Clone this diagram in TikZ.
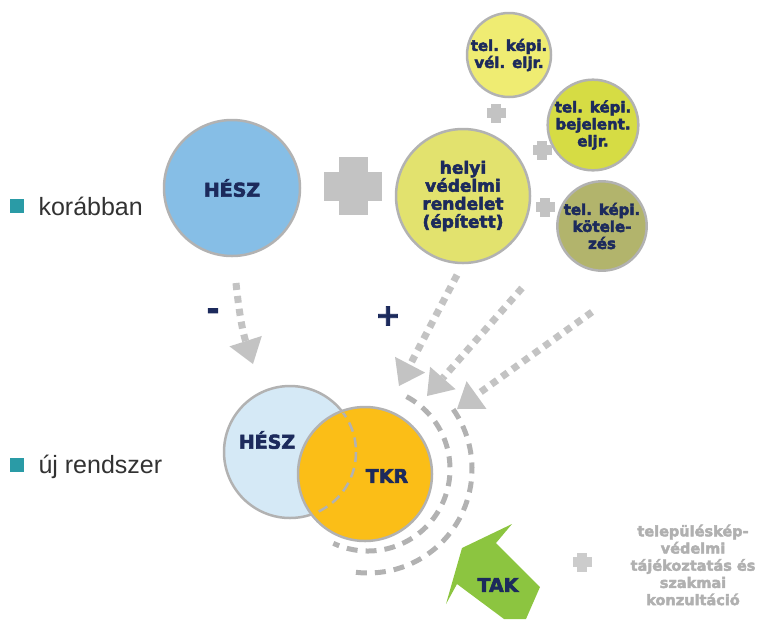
\documentclass[tikz,border=0pt]{standalone}
\usepackage{fontspec}
\setmainfont{Liberation Sans}
\newfontfamily\heavyFont{DejaVu Sans Bold}[FakeBold=3]
\usepackage{tikz}
\usetikzlibrary{positioning, arrows.meta}
\tikzstyle{sheet} = [x = 1pt, y = -1pt]
\definecolor{rimGray}{RGB}{178,178,178}
\definecolor{plusGray}{RGB}{195,195,195}
\definecolor{paleGray}{RGB}{204,204,204}
\definecolor{noteGray}{RGB}{176,176,176}
\definecolor{inkNavy}{RGB}{28,42,92}
\definecolor{keyTeal}{RGB}{42,155,166}
\definecolor{labelGray}{RGB}{50,50,50}
\definecolor{heszBlue}{RGB}{134,190,230}
\definecolor{heszPale}{RGB}{213,233,246}
\definecolor{tkrOrange}{RGB}{251,190,23}
\definecolor{takGreen}{RGB}{140,197,64}
\definecolor{helyiYellow}{RGB}{226,226,110}
\definecolor{eljrYellow}{RGB}{239,236,114}
\definecolor{bejelentYellow}{RGB}{214,220,68}
\definecolor{kotelezOlive}{RGB}{178,180,108}
\tikzstyle{bubbleStyle} = [circle, draw=rimGray, line width=2.5pt, inner sep=0pt, align=center, text=inkNavy]
\tikzstyle{bigText} = [font=\heavyFont\fontsize{19}{20}\selectfont]
\tikzstyle{midText} = [font=\heavyFont\fontsize{17}{18}\selectfont]
\tikzstyle{smallText} = [font=\heavyFont\fontsize{15}{17}\selectfont]
\tikzstyle{noteText} = [align=center, text=noteGray, font=\heavyFont\fontsize{14.5}{17.2}\selectfont]
\tikzstyle{keyBox} = [fill=keyTeal, minimum size=14pt, inner sep=0pt]
\tikzstyle{keyText} = [anchor=base west, text=labelGray, font=\fontsize{25}{28}\selectfont]
\tikzstyle{signText} = [text=inkNavy, font=\heavyFont\fontsize{30}{30}\selectfont]
\tikzstyle{flowArrow} = [draw=plusGray, line width=7pt, dash pattern=on 7pt off 6pt, -{Triangle[length=24pt, width=34pt, line width=0pt]}]
\tikzstyle{rippleStyle} = [draw=rimGray, line width=5pt, dash pattern=on 11pt off 8pt]
\newcommand{\plusSign}[4]{
  \fill [#4] (#1 - #3 / 2, #2 - #3 / 4) rectangle + (#3, #3 / 2);
  \fill [#4] (#1 - #3 / 4, #2 - #3 / 2) rectangle + (#3 / 2, #3);
}

\begin{document}
\begin{tikzpicture}[sheet]
  \useasboundingbox (0,0) rectangle (762,619);

  % legend
  \node [keyBox] (keyOld) at (17,206) {};
  \node [keyText] (labelOld) at (35,215) {korábban};
  \node [keyBox] (keyNew) at (17,465) {};
  \node [keyText] (labelNew) at (35,473) {új rendszer};

  % earlier system
  \node [bubbleStyle, bigText, fill=heszBlue, minimum size=136pt] (hesz) at (232,188) {HÉSZ};
  \plusSign{353}{186}{58}{plusGray}
  \node [bubbleStyle, midText, fill=helyiYellow, minimum size=134pt] (helyi) at (463,196) {helyi\\védelmi\\rendelet\\(épített)};
  \node [bubbleStyle, smallText, fill=eljrYellow, minimum size=84pt] (eljr) at (509,55) {tel. képi.\\vél. eljr.};
  \node [bubbleStyle, smallText, fill=bejelentYellow, minimum size=84pt] (bejelent) at (593,125) {tel. képi.\\bejelent.\\eljr.};
  \node [bubbleStyle, smallText, fill=kotelezOlive, minimum size=84pt] (kotelez) at (602,226) {tel. képi.\\kötele-\\zés};
  \plusSign{496}{113}{19}{plusGray}
  \plusSign{542}{150}{19}{plusGray}
  \plusSign{545}{207}{19}{plusGray}

  % new system
  \node [bubbleStyle, fill=heszPale, minimum size=132pt] (heszNew) at (290,452) {};
  \node [bubbleStyle, fill=tkrOrange, minimum size=134pt] (tkr) at (365,474) {};
  \begin{scope}
    \clip (tkr.center) circle [radius=65];
    \draw [rimGray, line width=2.5pt, dash pattern=on 10pt off 6pt] (heszNew.center) circle [radius=66];
  \end{scope}
  \node [bigText, text=inkNavy] (heszNewLabel) at (267,440) {HÉSZ};
  \node [bigText, text=inkNavy] (tkrLabel) at (387,476) {TKR};

  \coordinate (ripple) at (368,469);
  \draw [rippleStyle] ([shift={(-62:82)}]ripple) arc [start angle=-62, end angle=115, radius=82];
  \draw [rippleStyle] ([shift={(-35:104)}]ripple) arc [start angle=-35, end angle=97, radius=104];

  % flows into the new system
  \node [signText] (minusSign) at (213,314) {-};
  \node [signText] (plusSignLabel) at (388,316) {+};
  \coordinate (fromHesz) at (236,283);
  \coordinate (toHeszNew) at (253,364);
  \coordinate (fromHelyi) at (457,275);
  \coordinate (toTkrA) at (399,386);
  \coordinate (fromBejelent) at (522,288);
  \coordinate (toTkrB) at (427,396);
  \coordinate (fromKotelez) at (592,312);
  \coordinate (toTkrC) at (457,409);
  \draw [flowArrow] (fromHesz) to [bend right=6] (toHeszNew);
  \draw [flowArrow] (fromHelyi) -- (toTkrA);
  \draw [flowArrow] (fromBejelent) -- (toTkrB);
  \draw [flowArrow] (fromKotelez) -- (toTkrC);

  % TAK
  \fill [takGreen] (462,548) -- (512,524) -- (496,543) -- (540,587) -- (526,619) -- (504,619) -- (457,584) -- (446,604) -- cycle;
  \node [bigText, text=inkNavy] (tak) at (498,585) {TAK};
  \plusSign{582}{562}{19}{paleGray}
  \node [noteText] (takNote) at (693,565) {településkép-\\védelmi\\tájékoztatás és\\szakmai\\konzultáció};
\end{tikzpicture}
\end{document}
